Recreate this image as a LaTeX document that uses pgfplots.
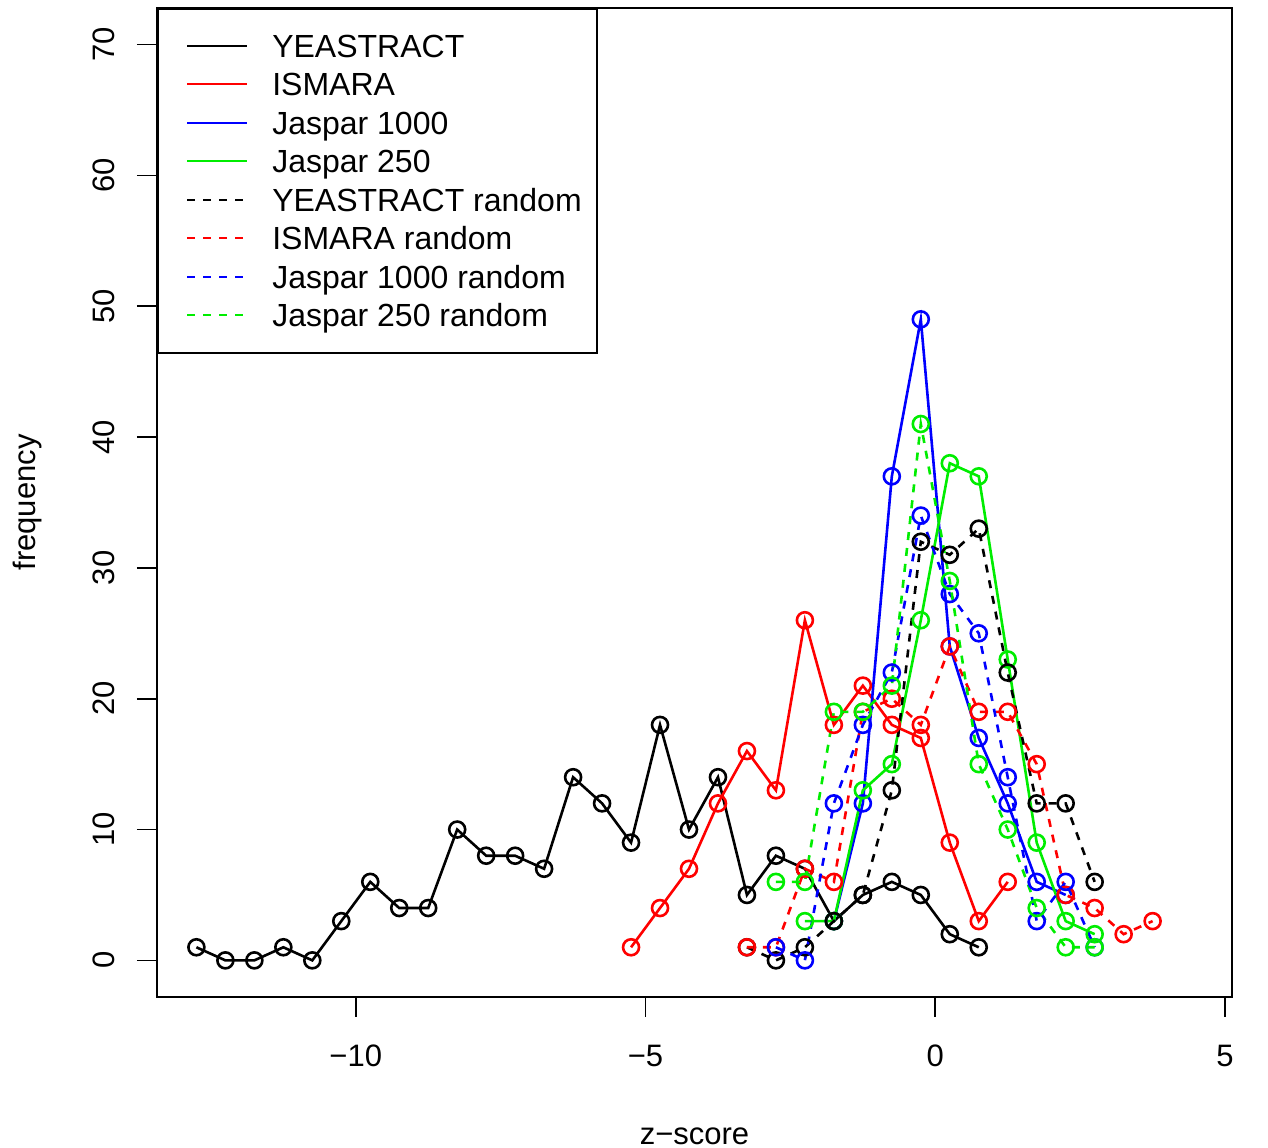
\documentclass[border=0pt]{standalone}
\usepackage{fontspec}
\setmainfont{Liberation Sans}
\usepackage{pgfplots}
\pgfplotsset{compat=1.18}
\definecolor{rgreen}{rgb}{0,0.93,0}
\begin{document}
\begin{tikzpicture}
\begin{axis}[
  scale only axis, width=537.5pt, height=494.5pt,
  xmin=-13.43, xmax=5.12, ymin=-2.8, ymax=72.8,
  axis line style={line width=1pt},
  xtick={-10,-5,0,5}, xticklabels={−10,−5,0,5},
  ytick={0,10,20,30,40,50,60,70},
  /pgf/number format/assume math mode=true,
  xtick pos=lower, ytick pos=left,
  tick align=outside, major tick length=10pt,
  tick style={line width=0.8pt, black},
  font=\fontsize{15.5}{18}\selectfont,
  tick label style={font=\fontsize{15.5}{18}\selectfont},
  xticklabel shift=10.5pt,
  yticklabel style={rotate=90, anchor=south},
  yticklabel shift=7.5pt,
  every axis x label/.style={at={(axis description cs:0.5,0)}, yshift=-69.5pt, anchor=center},
  every axis y label/.style={at={(axis description cs:0,0.5)}, xshift=-64.5pt, rotate=90, anchor=center},
  xlabel={z−score}, ylabel={frequency},
  every axis plot/.append style={line width=1.3pt, mark=o, mark size=4pt, mark options={solid, line width=1.3pt}},
  legend image code/.code={\path (0pt,0pt); \draw[#1, line width=1pt] (6.5pt,0.3pt) -- (36.5pt,0.3pt);},
  legend style={at={(0,1)}, anchor=north west, draw=black, line width=1pt,
    inner xsep=7.5pt, inner ysep=11.2pt, column sep=12pt, row sep=4.25pt,
    font=\fontsize{16}{18}\selectfont,
    nodes={inner sep=0pt, text height=13pt, text depth=2pt}},
  legend cell align=left,
]
\addplot[black] coordinates {(-12.75,1)(-12.25,0)(-11.75,0)(-11.25,1)(-10.75,0)(-10.25,3)(-9.75,6)(-9.25,4)(-8.75,4)(-8.25,10)(-7.75,8)(-7.25,8)(-6.75,7)(-6.25,14)(-5.75,12)(-5.25,9)(-4.75,18)(-4.25,10)(-3.75,14)(-3.25,5)(-2.75,8)(-2.25,7)(-1.75,3)(-1.25,5)(-0.75,6)(-0.25,5)(0.25,2)(0.75,1)};
\addlegendentry{YEASTRACT}
\addplot[red] coordinates {(-5.25,1)(-4.75,4)(-4.25,7)(-3.75,12)(-3.25,16)(-2.75,13)(-2.25,26)(-1.75,18)(-1.25,21)(-0.75,18)(-0.25,17)(0.25,9)(0.75,3)(1.25,6)};
\addlegendentry{ISMARA}
\addplot[blue] coordinates {(-1.75,3)(-1.25,12)(-0.75,37)(-0.25,49)(0.25,24)(0.75,17)(1.25,12)(1.75,6)(2.25,5)};
\addlegendentry{Jaspar 1000}
\addplot[rgreen] coordinates {(-2.25,3)(-1.75,3)(-1.25,13)(-0.75,15)(-0.25,26)(0.25,38)(0.75,37)(1.25,23)(1.75,9)(2.25,3)(2.75,2)};
\addlegendentry{Jaspar 250}
\addplot[black, dash pattern=on 4pt off 4pt] coordinates {(-3.25,1)(-2.75,0)(-2.25,1)(-1.75,3)(-1.25,5)(-0.75,13)(-0.25,32)(0.25,31)(0.75,33)(1.25,22)(1.75,12)(2.25,12)(2.75,6)};
\addlegendentry{YEASTRACT random}
\addplot[red, dash pattern=on 4pt off 4pt] coordinates {(-3.25,1)(-2.75,1)(-2.25,7)(-1.75,6)(-1.25,19)(-0.75,20)(-0.25,18)(0.25,24)(0.75,19)(1.25,19)(1.75,15)(2.25,5)(2.75,4)(3.25,2)(3.75,3)};
\addlegendentry{ISMARA random}
\addplot[blue, dash pattern=on 4pt off 4pt] coordinates {(-2.75,1)(-2.25,0)(-1.75,12)(-1.25,18)(-0.75,22)(-0.25,34)(0.25,28)(0.75,25)(1.25,14)(1.75,3)(2.25,6)(2.75,1)};
\addlegendentry{Jaspar 1000 random}
\addplot[rgreen, dash pattern=on 4pt off 4pt] coordinates {(-2.75,6)(-2.25,6)(-1.75,19)(-1.25,19)(-0.75,21)(-0.25,41)(0.25,29)(0.75,15)(1.25,10)(1.75,4)(2.25,1)(2.75,1)};
\addlegendentry{Jaspar 250 random}
\end{axis}
\pgfresetboundingbox
\path[use as bounding box] ([shift={(-78.5pt,-75.5pt)}]current axis.south west) rectangle ([shift={(18pt,4pt)}]current axis.north east);
\end{tikzpicture}
\end{document}
